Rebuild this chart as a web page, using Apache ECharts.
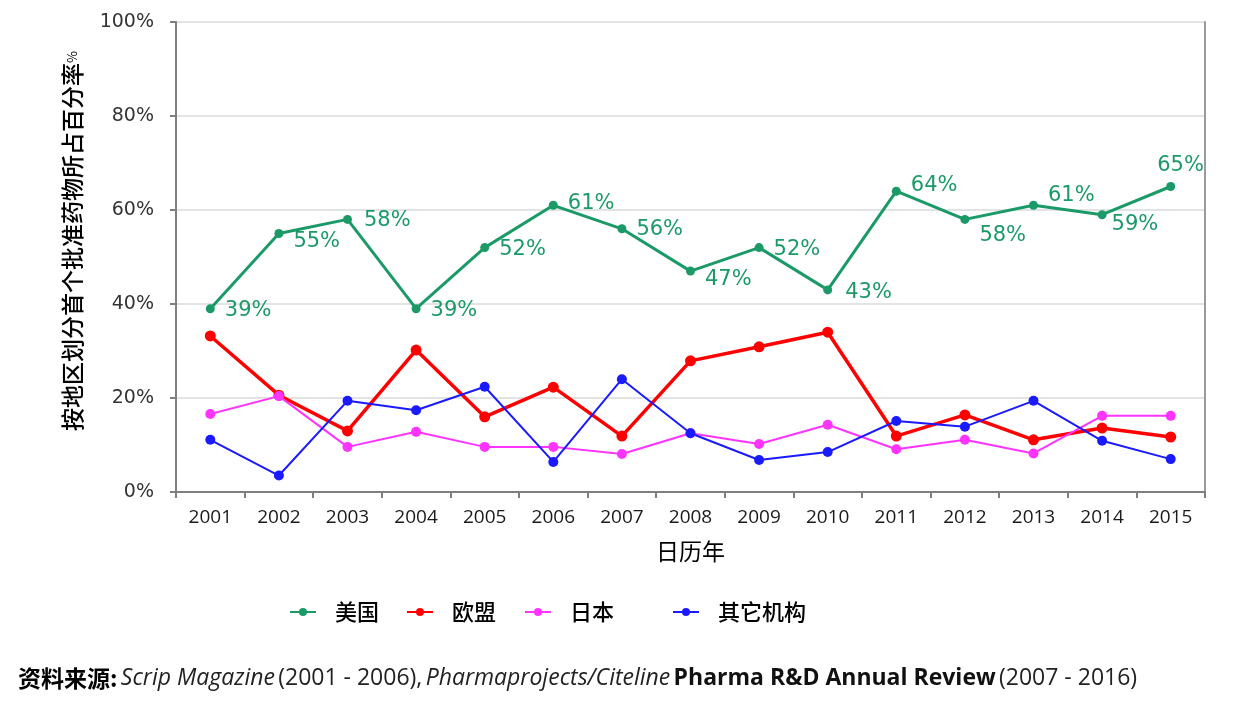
<!DOCTYPE html>
<html><head><meta charset="utf-8">
<script src="https://cdn.jsdelivr.net/npm/echarts@6/dist/echarts.min.js"></script>
<style>html,body{margin:0;padding:0;background:#fff}#c{width:1237px;height:709px}</style>
</head><body><div id="c"></div>
<script>
const years = ['2001','2002','2003','2004','2005','2006','2007','2008','2009','2010','2011','2012','2013','2014','2015'];
const usa = [39,55,58,39,52,61,56,47,52,43,64,58,61,59,65];
const eu = [33.2,20.6,13.0,30.2,16.0,22.3,11.9,27.9,30.9,34.0,11.9,16.4,11.1,13.6,11.7];
const japan = [16.6,20.4,9.6,12.8,9.6,9.6,8.1,12.5,10.2,14.3,9.1,11.1,8.2,16.2,16.2];
const other = [11.1,3.5,19.4,17.4,22.4,6.4,24.0,12.5,6.8,8.5,15.1,13.9,19.4,10.9,7.0];
const names = ['美国','欧盟','日本','其它机构'];
const yTicks = [0,20,40,60,80,100];

const green = '#1b9a68';
// label offsets relative to 'right' position
const labelOffsets = [[0,2],[0,8],[2,1],[0,2],[0,2],[0,-2],[0,1],[0,8],[0,2],[3,3],[0,-6],[0,16],[0,-10],[-5,10],[-28,-21]];

const usaData = usa.map((v,i)=>({value:v,label:{offset:labelOffsets[i]}}));

const chart = echarts.init(document.getElementById('c'));
chart.setOption({
  animation:false,
  grid:{left:176,top:22,right:32,bottom:217},
  xAxis:{type:'category',data:years,boundaryGap:true,
    name:'日历年',nameLocation:'middle',nameGap:48,
    nameTextStyle:{fontFamily:'Noto Sans CJK SC',fontSize:23,color:'#000'},
    axisLine:{lineStyle:{color:'#7f7f7f',width:2}},
    axisTick:{show:true,length:6,lineStyle:{color:'#7f7f7f',width:2}},
    axisLabel:{margin:16,fontFamily:'Open Sans',fontSize:19,color:'#1a1a1a'},
    splitLine:{show:false}},
  yAxis:[{type:'value',min:yTicks[0],max:yTicks[yTicks.length-1],interval:20,
    name:'{a|按地区划分首个批准药物所占百分率}{b|%}',nameLocation:'middle',nameGap:92,nameRotate:90,
    nameTextStyle:{padding:[0,0,0,32],rich:{a:{fontFamily:'Noto Sans CJK SC',fontSize:23,fontWeight:500,color:'#000'},b:{fontFamily:'Noto Sans CJK SC',fontSize:13,color:'#000'}}},
    axisLine:{show:true,lineStyle:{color:'#7f7f7f',width:2}},
    axisTick:{show:true,length:6,lineStyle:{color:'#7f7f7f',width:2}},
    axisLabel:{margin:22,formatter:'{value}%',fontFamily:'DejaVu Sans',fontSize:19,color:'#333'},
    splitLine:{show:true,lineStyle:{color:'#e3e3e3',width:2}}},
    {type:'value',min:0,max:100,interval:20,position:'right',
    axisLine:{show:true,lineStyle:{color:'#9a9a9a',width:2}},axisTick:{show:false},axisLabel:{show:false},splitLine:{show:false}}],
  legend:[
    {data:[names[0]],left:284,top:596},
    {data:[names[1]],left:401,top:596},
    {data:[names[2]],left:519,top:596},
    {data:[names[3]],left:667,top:596}
  ].map(l=>Object.assign(l,{itemWidth:26,itemHeight:10,itemGap:10,
    textStyle:{fontFamily:'Noto Sans CJK SC',fontSize:22,fontWeight:500,color:'#000',padding:[0,0,0,14]}})),
  series:[
    {name:names[0],type:'line',data:usaData,color:green,symbol:'circle',symbolSize:9,
      lineStyle:{width:3,color:green},itemStyle:{color:green},
      label:{show:true,position:'right',distance:10,formatter:'{c}%',fontFamily:'DejaVu Sans',fontSize:21,color:green}},
    {name:names[1],type:'line',data:eu,symbol:'circle',symbolSize:11,
      lineStyle:{width:3.5,color:'#ff0000'},itemStyle:{color:'#ff0000'}},
    {name:names[2],type:'line',data:japan,symbol:'circle',symbolSize:10,
      lineStyle:{width:2,color:'#ff33ff'},itemStyle:{color:'#ff33ff'}},
    {name:names[3],type:'line',data:other,symbol:'circle',symbolSize:10,
      lineStyle:{width:2,color:'#1a1aff'},itemStyle:{color:'#1a1aff'}}
  ],
  graphic:[{type:'text',left:18,top:667,style:{
    text:'{h|资料来源:} {i|Scrip Magazine} {r|(2001 - 2006),} {i|Pharmaprojects/Citeline} {b|Pharma R&D Annual Review} {r|(2007 - 2016)}',
    rich:{
      h:{fontFamily:'Noto Sans CJK SC',fontSize:23,fontWeight:'bold',fill:'#000'},
      i:{fontFamily:'Open Sans',fontStyle:'italic',fontSize:23,fill:'#222'},
      r:{fontFamily:'Open Sans',fontSize:23,fill:'#222'},
      b:{fontFamily:'Open Sans',fontWeight:'bold',fontSize:23,fill:'#111'}
    }}}]
});
</script></body></html>
